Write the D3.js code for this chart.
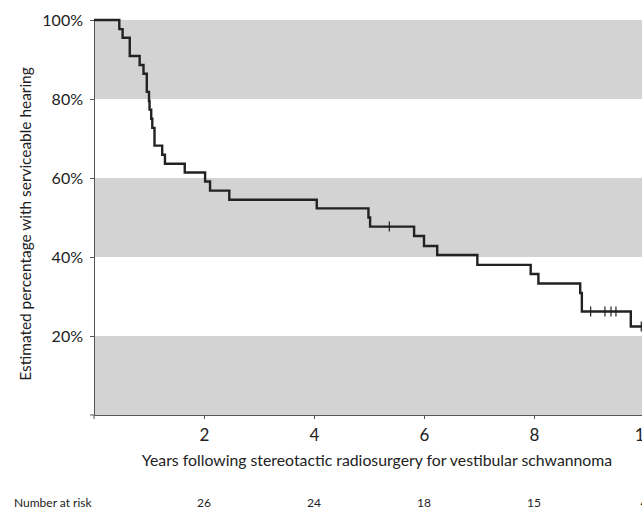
<!DOCTYPE html>
<html>
<head>
<meta charset="utf-8">
<script src="https://cdn.jsdelivr.net/npm/d3@7"></script>
<style>
  body { margin: 0; background: #fff; }
  text { font-family: Lato, "Open Sans", sans-serif; fill: #222; }
</style>
</head>
<body>
<script>
// Kaplan-Meier step curve: event times (years) and survival after each step (%)
const eventYears = [0.46, 0.52, 0.65, 0.83, 0.90, 0.96, 1.00, 1.01, 1.04, 1.06, 1.10,
                    1.24, 1.29, 1.65, 2.02, 2.11, 2.46, 4.05, 4.99, 5.02,
                    5.82, 6.00, 6.24, 6.97, 7.94, 8.08, 8.84, 8.87, 9.76];
const eventSurvival = [97.7, 95.5, 90.9, 88.6, 86.4, 81.8, 79.5, 77.3, 75.0, 72.7, 68.2,
                       65.9, 63.6, 61.4, 59.1, 56.8, 54.5, 52.3, 50.0, 47.7,
                       45.3, 42.8, 40.5, 38.0, 35.7, 33.3, 30.9, 26.2, 22.4];
const censorYears = [5.37, 9.03, 9.29, 9.40, 9.49, 9.95];
const censorSurvival = [47.7, 26.2, 26.2, 26.2, 26.2, 22.4];

const xTicks = [2, 4, 6, 8, 10];
const yTicks = [20, 40, 60, 80, 100];
const bands = [[80, 100], [40, 60], [0, 20]];

const riskYears = [2, 4, 6, 8, 10];
const riskCounts = [26, 24, 18, 15, 4];

const W = 642, H = 509;
const svg = d3.select("body").append("svg")
  .attr("width", W)
  .attr("height", H);

const x = d3.scaleLinear().domain([0, 10]).range([94, 644]);
const y = d3.scaleLinear().domain([0, 100]).range([415, 20]);

// grey bands
svg.selectAll(".band")
  .data(bands)
  .enter().append("rect")
  .attr("class", "band")
  .attr("x", x(0))
  .attr("y", d => y(d[1]))
  .attr("width", x(10.5) - x(0))
  .attr("height", d => y(d[0]) - y(d[1]))
  .attr("fill", "#d3d3d3");

// axes
const yAxis = svg.append("g")
  .attr("transform", "translate(" + x(0) + ",0)")
  .call(d3.axisLeft(y).tickValues(yTicks).tickSize(4).tickSizeOuter(0)
    .tickFormat(d => d + "%"));
yAxis.select(".domain").attr("stroke", "#555");
yAxis.selectAll(".tick line").attr("stroke", "#555");
yAxis.selectAll(".tick text")
  .attr("x", -11)
  .style("font-size", "16px")
  .style("font-family", "Lato, sans-serif")
  .attr("fill", "#222");

const xAxis = svg.append("g")
  .attr("transform", "translate(0," + y(0) + ")")
  .call(d3.axisBottom(x).tickValues(xTicks).tickSize(4).tickSizeOuter(0));
xAxis.select(".domain").attr("stroke", "#555");
xAxis.selectAll(".tick line").attr("stroke", "#555");
xAxis.selectAll(".tick text")
  .attr("y", 0)
  .attr("dy", null)
  .attr("transform", "translate(0,26)")
  .style("font-size", "17px")
  .style("font-family", "Lato, sans-serif")
  .attr("fill", "#222");

// small cross at origin
svg.append("line")
  .attr("x1", x(0) - 4).attr("x2", x(0))
  .attr("y1", y(0)).attr("y2", y(0))
  .attr("stroke", "#555");
svg.append("line")
  .attr("x1", x(0)).attr("x2", x(0))
  .attr("y1", y(0)).attr("y2", y(0) + 4)
  .attr("stroke", "#555");

// step curve
const pts = [[0, 100]].concat(eventYears.map((t, i) => [t, eventSurvival[i]]));
pts.push([10.5, eventSurvival[eventSurvival.length - 1]]);

svg.append("path")
  .datum(pts)
  .attr("fill", "none")
  .attr("stroke", "#222")
  .attr("stroke-width", 2.4)
  .attr("d", d3.line()
    .x(d => x(d[0]))
    .y(d => y(d[1]))
    .curve(d3.curveStepAfter));

// censor ticks
svg.selectAll(".censor")
  .data(censorYears)
  .enter().append("line")
  .attr("class", "censor")
  .attr("x1", d => x(d)).attr("x2", d => x(d))
  .attr("y1", (d, i) => y(censorSurvival[i]) - 5)
  .attr("y2", (d, i) => y(censorSurvival[i]) + 5)
  .attr("stroke", "#222")
  .attr("stroke-width", 1.2);

// axis titles
svg.append("text")
  .attr("x", 377)
  .attr("y", 466)
  .attr("text-anchor", "middle")
  .style("font-size", "15.8px")
  .text("Years following stereotactic radiosurgery for vestibular schwannoma");

svg.append("text")
  .attr("transform", "translate(31,224) rotate(-90)")
  .attr("text-anchor", "middle")
  .style("font-size", "15.4px")
  .text("Estimated percentage with serviceable hearing");

// number at risk row
svg.append("text")
  .attr("x", 14)
  .attr("y", 507)
  .style("font-size", "12px")
  .text("Number at risk");

svg.selectAll(".risk")
  .data(riskCounts)
  .enter().append("text")
  .attr("class", "risk")
  .attr("x", (d, i) => x(riskYears[i]))
  .attr("y", 507)
  .attr("text-anchor", "middle")
  .style("font-size", "12px")
  .text(d => d);
</script>
</body>
</html>
